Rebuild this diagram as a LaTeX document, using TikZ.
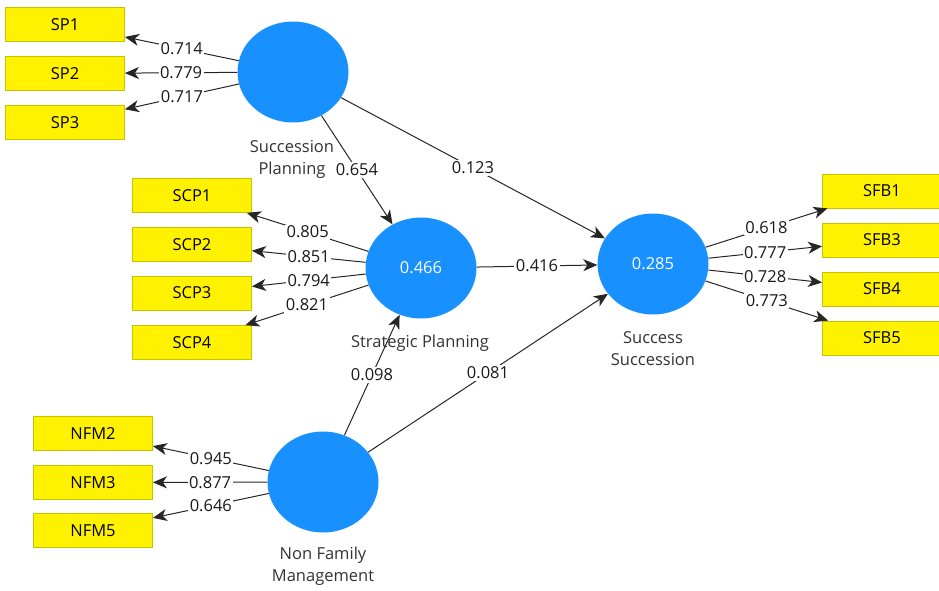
\documentclass[tikz,border=0pt]{standalone}
\usepackage{fontspec}
\setmainfont{Open Sans}
\usetikzlibrary{shapes.geometric,arrows.meta}
\definecolor{lvblue}{RGB}{24,145,255}
\definecolor{mvedge}{RGB}{196,196,0}

\begin{document}
\begin{tikzpicture}[x=1pt,y=-1pt,font=\fontsize{16.5}{22}\selectfont,
	lv/.style={ellipse,fill=lvblue,minimum width=111pt,minimum height=101pt,inner sep=0pt,text=white},
	mv/.style={draw=mvedge,line width=0.8pt,fill=yellow,minimum width=119pt,minimum height=34pt,inner sep=0pt},
	lvname/.style={align=center,text=black!80},
	path/.style={draw=black!85,line width=1pt,-{Stealth[length=14pt,width=12pt,inset=4pt]}},
	coef/.style={midway,fill=white,inner sep=1.5pt,text=black!90}]
				\useasboundingbox (0,0) rectangle (939,590);
				\node[lv] (sp) at (293,72) {};
				\node[lv] (stp) at (421,268) {0.466};
				\node[lv] (ss) at (653,264) {0.285};
				\node[lv] (nfm) at (323,482) {};
				\node[lvname] (spname) at (292,159) {Succession\\Planning};
				\node[lvname] (stpname) at (420,343) {Strategic Planning};
				\node[lvname] (ssname) at (653,349) {Success\\Succession};
				\node[lvname] (nfmname) at (323,566) {Non Family\\Management};
				\node[mv] (sp1) at (65,24.5) {SP1};
				\node[mv] (sp2) at (65,73.5) {SP2};
				\node[mv] (sp3) at (65,122.5) {SP3};
				\node[mv] (scp1) at (192,195.5) {SCP1};
				\node[mv] (scp2) at (192,244.5) {SCP2};
				\node[mv] (scp3) at (192,293) {SCP3};
				\node[mv] (scp4) at (192,342.5) {SCP4};
				\node[mv] (sfb1) at (882,191) {SFB1};
				\node[mv] (sfb3) at (882,240) {SFB3};
				\node[mv] (sfb4) at (882,289) {SFB4};
				\node[mv] (sfb5) at (882,338) {SFB5};
				\node[mv] (nfm2) at (93,433.5) {NFM2};
				\node[mv] (nfm3) at (93,482.5) {NFM3};
				\node[mv] (nfm5) at (93,530.5) {NFM5};
				\draw[path] (sp) -- (sp1) node[coef]{0.714};
				\draw[path] (sp) -- (sp2) node[coef]{0.779};
				\draw[path] (sp) -- (sp3) node[coef]{0.717};
				\draw[path] (stp) -- (scp1) node[coef]{0.805};
				\draw[path] (stp) -- (scp2) node[coef]{0.851};
				\draw[path] (stp) -- (scp3) node[coef]{0.794};
				\draw[path] (stp) -- (scp4) node[coef]{0.821};
				\draw[path] (ss) -- (sfb1) node[coef]{0.618};
				\draw[path] (ss) -- (sfb3) node[coef]{0.777};
				\draw[path] (ss) -- (sfb4) node[coef]{0.728};
				\draw[path] (ss) -- (sfb5) node[coef]{0.773};
				\draw[path] (nfm) -- (nfm2) node[coef]{0.945};
				\draw[path] (nfm) -- (nfm3) node[coef]{0.877};
				\draw[path] (nfm) -- (nfm5) node[coef]{0.646};
				\draw[path] (sp) -- (stp) node[coef]{0.654};
				\draw[path] (sp) -- (ss) node[coef]{0.123};
				\draw[path] (stp) -- (ss) node[coef]{0.416};
				\draw[path] (nfm) -- (stp) node[coef]{0.098};
				\draw[path] (nfm) -- (ss) node[coef]{0.081};
\end{tikzpicture}
\end{document}
